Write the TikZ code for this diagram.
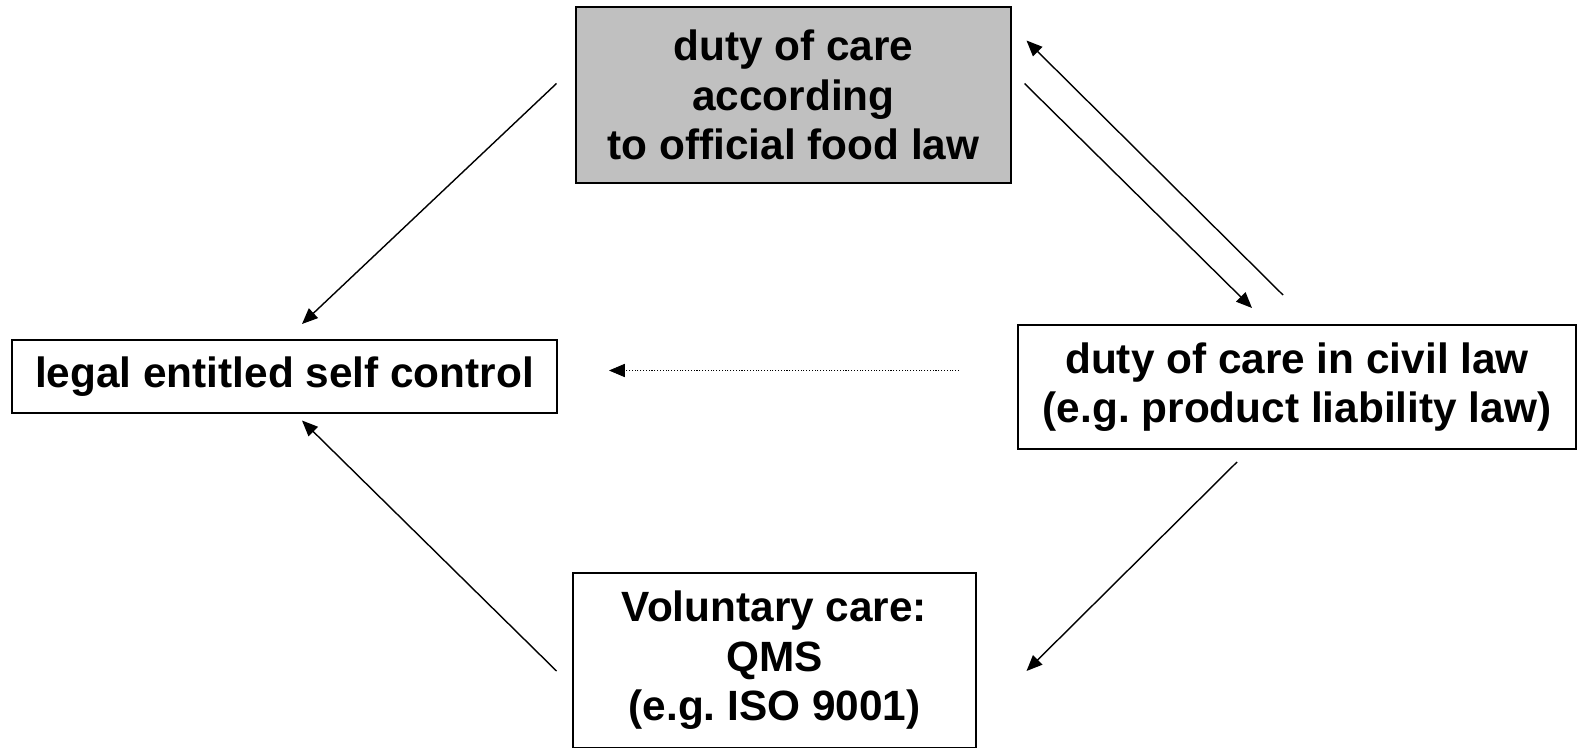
\documentclass[tikz,border=0pt]{standalone}
\usepackage{fontspec}
\setmainfont[Ligatures=NoCommon]{Liberation Sans}
\usetikzlibrary{arrows.meta, positioning}
\definecolor{lawGray}{RGB}{192, 192, 192}

\begin{document}
\frenchspacing
\begin{tikzpicture}[
    every node/.style={font=\fontsize{24.1}{28.2}\selectfont\bfseries},
    box/.style={rectangle, draw=black, line width=0.9pt, align=center, inner sep=0pt},
    flow/.style={-{Triangle[length=9pt, width=7.5pt]}, line width=0.8pt},
    hint/.style={-{Triangle[length=9pt, width=7.5pt]}, line width=0.5pt, dash pattern=on 0.6pt off 1pt},
]
\useasboundingbox (0,0) rectangle (31.56,-14.96);
% BOXES
\node[box, fill=lawGray, minimum width=8.7cm, minimum height=3.52cm] (food) at (15.87,-1.90) {duty of care\\according\\to official food law};
\node[box, minimum width=10.9cm, minimum height=1.46cm] (self) at (5.69,-7.53) {legal entitled self control};
\node[box, minimum width=11.16cm, minimum height=2.48cm] (civil) at (25.94,-7.74) {duty of care in civil law\\(e.g. product liability law)};
\node[box, minimum width=8.06cm, minimum height=3.5cm] (qms) at (15.49,-13.21) {Voluntary care:\\QMS\\(e.g. ISO 9001)};
% ARROW ENDS
\coordinate (foodL) at (11.13,-1.67);
\coordinate (selfT) at (6.04,-6.48);
\coordinate (foodR) at (20.49,-1.67);
\coordinate (civilT) at (25.04,-6.16);
\coordinate (civilU) at (25.66,-5.90);
\coordinate (foodU) at (20.53,-0.81);
\coordinate (civilL) at (19.18,-7.41);
\coordinate (selfR) at (12.18,-7.41);
\coordinate (civilB) at (24.74,-9.24);
\coordinate (qmsR) at (20.53,-13.42);
\coordinate (qmsL) at (11.13,-13.42);
\coordinate (selfB) at (6.04,-8.41);
% ARROWS
\draw[flow] (foodL) -- (selfT);
\draw[flow] (foodR) -- (civilT);
\draw[flow] (civilU) -- (foodU);
\draw[hint] (civilL) -- (selfR);
\draw[flow] (civilB) -- (qmsR);
\draw[flow] (qmsL) -- (selfB);
\end{tikzpicture}
\end{document}
